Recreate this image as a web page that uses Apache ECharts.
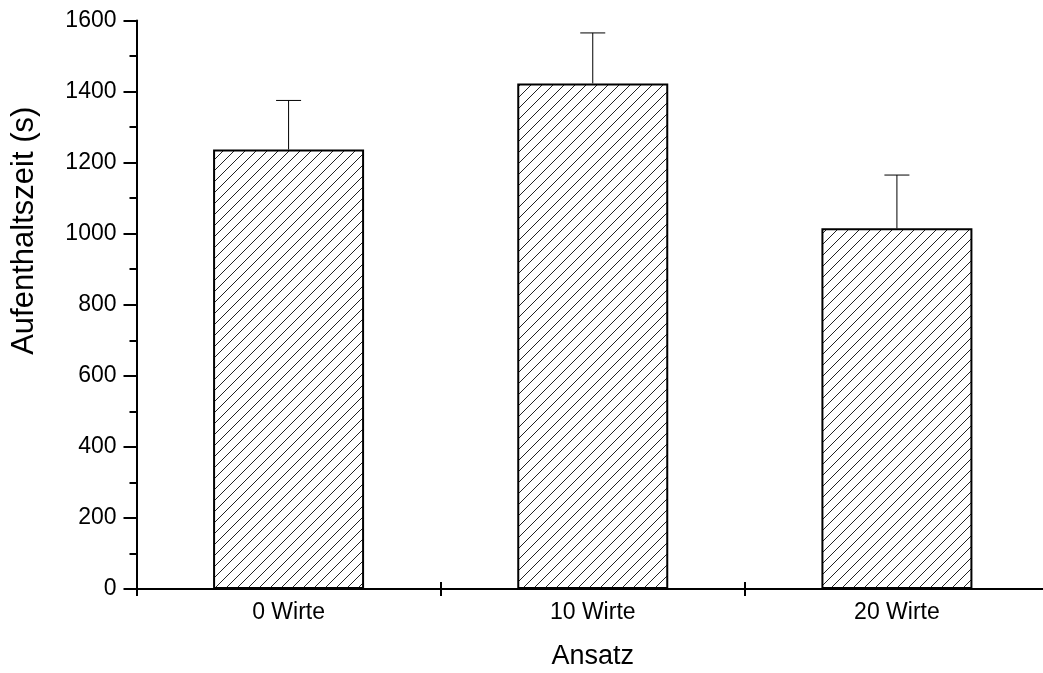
<!DOCTYPE html>
<html>
<head>
<meta charset="utf-8">
<script src="https://cdn.jsdelivr.net/npm/echarts@6/dist/echarts.min.js"></script>
<style>
html,body{margin:0;padding:0;background:#fff;}
#chart{width:1043px;height:673px;}
</style>
</head>
<body>
<div id="chart"></div>
<script>
const categories = ['0 Wirte', '10 Wirte', '20 Wirte'];
const meanValues = [1237, 1423, 1015];
const errorTops = [1375, 1565, 1165];
const yTicks = [0, 200, 400, 600, 800, 1000, 1200, 1400, 1600];

function hatchPattern() {
  const s = 11;
  const c = document.createElement('canvas');
  c.width = s; c.height = s;
  const ctx = c.getContext('2d');
  ctx.fillStyle = '#fff';
  ctx.fillRect(0, 0, s, s);
  ctx.strokeStyle = '#222';
  ctx.lineWidth = 1;
  ctx.beginPath();
  ctx.moveTo(-1, s + 1); ctx.lineTo(s + 1, -1);
  ctx.moveTo(-1 - s, s + 1); ctx.lineTo(1, -1);
  ctx.moveTo(s - 1, 2 * s + 1); ctx.lineTo(2 * s + 1, s - 1);
  ctx.stroke();
  return c;
}

const chart = echarts.init(document.getElementById('chart'));
const font = 'Liberation Sans, Arial, sans-serif';

const option = {
  backgroundColor: '#fff',
  animation: false,
  grid: { left: 136.5, top: 20.5, bottom: 84, right: -6, containLabel: false, outerBoundsMode: 'none' },
  xAxis: [
    {
      type: 'category',
      data: categories,
      name: 'Ansatz',
      nameLocation: 'middle',
      nameGap: 54,
      nameTextStyle: { fontFamily: font, fontSize: 27, color: '#000' },
      axisLine: { lineStyle: { color: '#000', width: 2 } },
      axisTick: { show: true, length: 7, inside: false, lineStyle: { color: '#000', width: 2 } },
      axisLabel: { fontFamily: font, fontSize: 23, color: '#000', margin: 12 },
      splitLine: { show: false }
    },
    {
      type: 'category',
      data: categories,
      position: 'bottom',
      axisLine: { show: false },
      axisTick: { show: true, length: 7, inside: true, lineStyle: { color: '#000', width: 2 } },
      axisLabel: { show: false },
      splitLine: { show: false }
    }
  ],
  yAxis: {
    type: 'value',
    min: 0,
    max: 1600,
    interval: 200,
    name: 'Aufenthaltszeit (s)',
    nameLocation: 'middle',
    nameGap: 97,
    nameTextStyle: { fontFamily: font, fontSize: 31, color: '#000', padding: [0, 0, 0, 148] },
    axisLine: { show: true, lineStyle: { color: '#000', width: 2 } },
    axisTick: { show: true, length: 13, lineStyle: { color: '#000', width: 2 } },
    minorTick: { show: true, splitNumber: 2, length: 7, lineStyle: { color: '#000', width: 2 } },
    axisLabel: {
      fontFamily: font, fontSize: 23, color: '#000', margin: 20,
      formatter: v => (yTicks.indexOf(v) >= 0 ? String(v) : '')
    },
    splitLine: { show: false }
  },
  series: [
    {
      type: 'bar',
      data: meanValues,
      barWidth: 151,
      itemStyle: {
        color: { image: hatchPattern(), repeat: 'repeat' },
        borderColor: '#000',
        borderWidth: 2
      },
      z: 2
    },
    {
      type: 'custom',
      data: categories.map((c, i) => [i, meanValues[i], errorTops[i]]),
      renderItem: function (params, api) {
        const x = api.value(0);
        const base = api.coord([x, api.value(1)]);
        const top = api.coord([x, api.value(2)]);
        const half = 12.5;
        return {
          type: 'group',
          children: [
            { type: 'line', shape: { x1: base[0], y1: base[1], x2: top[0], y2: top[1] }, style: { stroke: '#000', lineWidth: 1 } },
            { type: 'line', shape: { x1: top[0] - half, y1: top[1], x2: top[0] + half, y2: top[1] }, style: { stroke: '#000', lineWidth: 1 } }
          ]
        };
      },
      z: 3
    }
  ]
};
chart.setOption(option);
</script>
</body>
</html>
